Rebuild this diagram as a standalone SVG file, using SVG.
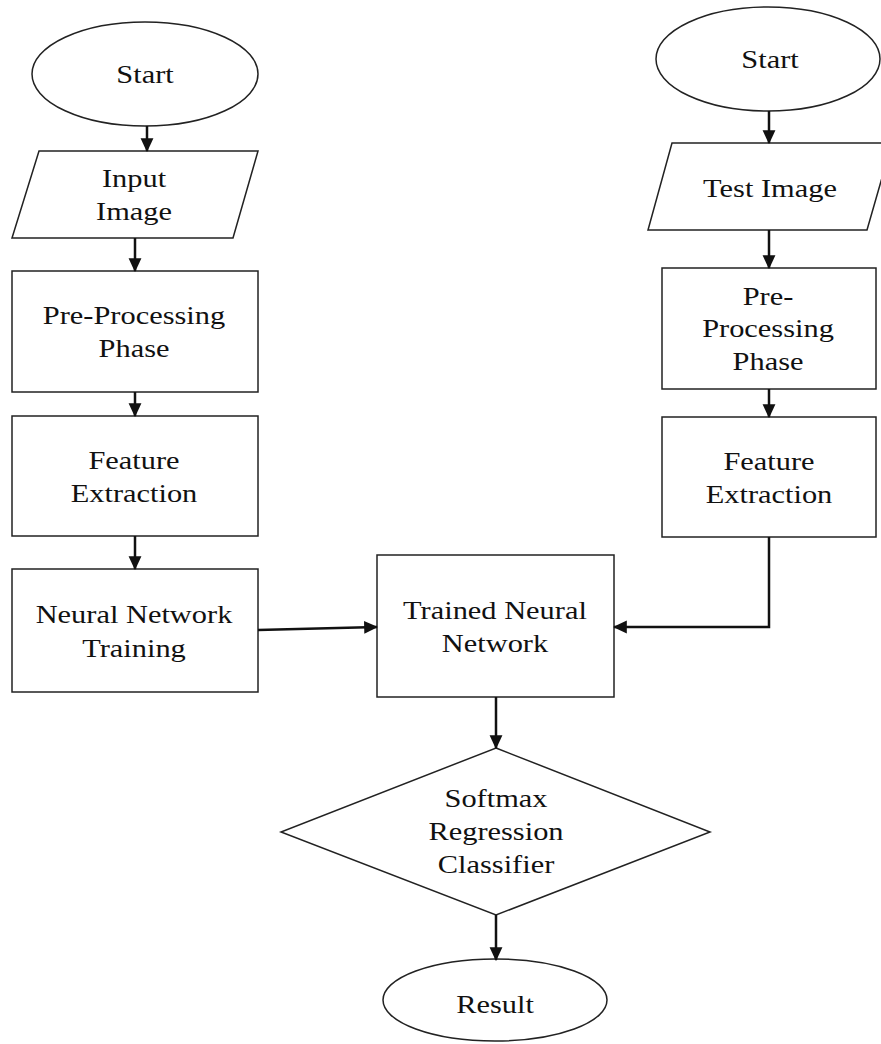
<svg xmlns="http://www.w3.org/2000/svg" width="881" height="1044" viewBox="0 0 881 1044">
<style>
.s{fill:#fff;stroke:#222;stroke-width:1.5}
.t{font-family:"Liberation Serif","Times New Roman",serif;font-size:26px;fill:#111;text-anchor:middle}
.c{fill:none;stroke:#111;stroke-width:2.5}
</style>
<defs>
<marker id="ah" markerUnits="userSpaceOnUse" markerWidth="14" markerHeight="14" viewBox="0 0 12 12" refX="11" refY="6" orient="auto">
<path d="M0,0.5 L12,6 L0,11.5 z" fill="#111"/>
</marker>
</defs>
<rect width="881" height="1044" fill="#fff"/>
<g id="start1">
<ellipse class="s" cx="145" cy="74" rx="113" ry="52"/>
<text class="t" transform="translate(145,83) scale(1.17,1)">Start</text>
</g>
<g id="input">
<polygon class="s" points="39,151 258,151 233,238 12,238"/>
<text class="t" transform="translate(134,187) scale(1.17,1)">Input</text>
<text class="t" transform="translate(134,220) scale(1.17,1)">Image</text>
</g>
<g id="pre1">
<rect class="s" x="12" y="271" width="246" height="121"/>
<text class="t" transform="translate(134,324) scale(1.17,1)">Pre-Processing</text>
<text class="t" transform="translate(134,357) scale(1.17,1)">Phase</text>
</g>
<g id="fe1">
<rect class="s" x="12" y="416" width="246" height="120"/>
<text class="t" transform="translate(134,469) scale(1.17,1)">Feature</text>
<text class="t" transform="translate(134,502) scale(1.17,1)">Extraction</text>
</g>
<g id="nnt">
<rect class="s" x="12" y="569" width="246" height="123"/>
<text class="t" transform="translate(134,623) scale(1.17,1)">Neural Network</text>
<text class="t" transform="translate(134,657) scale(1.17,1)">Training</text>
</g>
<g id="start2">
<ellipse class="s" cx="768" cy="59" rx="112" ry="52"/>
<text class="t" transform="translate(770,68) scale(1.17,1)">Start</text>
</g>
<g id="test">
<polygon class="s" points="672,143 892,143 867,230 648,230"/>
<text class="t" transform="translate(770,197) scale(1.17,1)">Test Image</text>
</g>
<g id="pre2">
<rect class="s" x="662" y="268" width="214" height="121"/>
<text class="t" transform="translate(768,305) scale(1.17,1)">Pre-</text>
<text class="t" transform="translate(768,337) scale(1.17,1)">Processing</text>
<text class="t" transform="translate(768,370) scale(1.17,1)">Phase</text>
</g>
<g id="fe2">
<rect class="s" x="662" y="417" width="214" height="120"/>
<text class="t" transform="translate(769,470) scale(1.17,1)">Feature</text>
<text class="t" transform="translate(769,503) scale(1.17,1)">Extraction</text>
</g>
<g id="tnn">
<rect class="s" x="377" y="555" width="237" height="142"/>
<text class="t" transform="translate(495,619) scale(1.17,1)">Trained Neural</text>
<text class="t" transform="translate(495,652) scale(1.17,1)">Network</text>
</g>
<g id="softmax">
<polygon class="s" points="496,748 710,832 496,915 281,832"/>
<text class="t" transform="translate(496,807) scale(1.17,1)">Softmax</text>
<text class="t" transform="translate(496,840) scale(1.17,1)">Regression</text>
<text class="t" transform="translate(496,873) scale(1.17,1)">Classifier</text>
</g>
<g id="result">
<ellipse class="s" cx="495" cy="1000" rx="112" ry="41"/>
<text class="t" transform="translate(495,1013) scale(1.17,1)">Result</text>
</g>
<g id="connectors">
<line class="c" x1="147" y1="126" x2="147" y2="151" marker-end="url(#ah)"/>
<line class="c" x1="135" y1="238" x2="135" y2="271" marker-end="url(#ah)"/>
<line class="c" x1="135" y1="392" x2="135" y2="416" marker-end="url(#ah)"/>
<line class="c" x1="135" y1="536" x2="135" y2="569" marker-end="url(#ah)"/>
<line class="c" x1="258" y1="630" x2="377" y2="627" marker-end="url(#ah)"/>
<line class="c" x1="769" y1="111" x2="769" y2="143" marker-end="url(#ah)"/>
<line class="c" x1="769" y1="230" x2="769" y2="268" marker-end="url(#ah)"/>
<line class="c" x1="769" y1="389" x2="769" y2="417" marker-end="url(#ah)"/>
<path class="c" d="M769,537 V627 H614" marker-end="url(#ah)"/>
<line class="c" x1="496" y1="697" x2="496" y2="748" marker-end="url(#ah)"/>
<line class="c" x1="496" y1="915" x2="496" y2="960" marker-end="url(#ah)"/>
</g>
</svg>
